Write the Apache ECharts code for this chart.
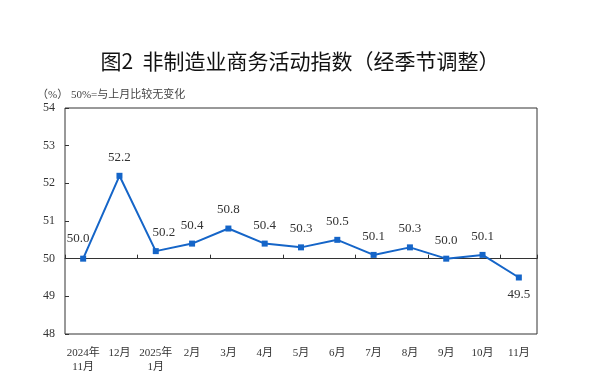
<!DOCTYPE html>
<html><head><meta charset="utf-8">
<script src="https://cdn.jsdelivr.net/npm/echarts@6/dist/echarts.min.js"></script>
<style>html,body{margin:0;padding:0;background:#fff}#c{width:600px;height:387px}</style>
</head><body><div id="c"></div>
<script>
const categories = ['2024年\n11月','12月','2025年\n1月','2月','3月','4月','5月','6月','7月','8月','9月','10月','11月'];
const values = [50.0, 52.2, 50.2, 50.4, 50.8, 50.4, 50.3, 50.5, 50.1, 50.3, 50.0, 50.1, 49.5];
const yTicks = [48, 49, 50, 51, 52, 53, 54];

const chart = echarts.init(document.getElementById('c'), null, {renderer:'canvas'});
const serif = 'Liberation Serif, "Noto Sans CJK SC", serif';
const gridTop = 108, gridBottom = 53, H = 387;
const gridH = H - gridTop - gridBottom;
const yMin = yTicks[0], yMax = yTicks[yTicks.length-1];
const lineOffset = -gridH * (50 - yMin) / (yMax - yMin);

const data = values.map((v, i) => {
  const item = { value: v };
  if (i === 0) item.label = { offset: [-5, -2] };
  if (i === 2) item.label = { offset: [8, 0] };
  if (i === values.length - 1) item.label = { position: 'bottom', distance: 8 };
  return item;
});

chart.setOption({
  animation: false,
  title: [{
    text: '图2  非制造业商务活动指数（经季节调整）',
    left: 'center', top: 46,
    textStyle: { fontFamily: '"Noto Sans CJK SC"', fontSize: 21, fontWeight: 'normal', color: '#111' }
  }, {
    text: '（%） 50%=与上月比较无变化',
    left: 32, top: 85,
    textStyle: { fontFamily: serif, fontSize: 11, fontWeight: 'normal', color: '#444' }
  }],
  grid: { left: 65, right: 63, top: gridTop, bottom: gridBottom, show: true, borderColor: '#333', borderWidth: 1, containLabel: false },
  xAxis: [{
    type: 'category', data: categories, boundaryGap: true,
    axisLine: { show: false }, axisTick: { show: false },
    axisLabel: { fontFamily: serif, fontSize: 11, color: '#333', margin: 12, lineHeight: 14, interval: 0 }
  }, {
    type: 'category', data: categories, boundaryGap: true, position: 'bottom', offset: lineOffset,
    axisLine: { show: true, lineStyle: { color: '#333', width: 1 } },
    axisTick: { show: true, inside: true, length: 4, lineStyle: { color: '#333' } },
    axisLabel: { show: false }
  }],
  yAxis: {
    type: 'value', min: yMin, max: yMax, interval: 1,
    axisLine: { show: false },
    axisTick: { show: true, inside: true, length: 4, lineStyle: { color: '#333' } },
    splitLine: { show: false },
    axisLabel: { fontFamily: serif, fontSize: 12, color: '#333', margin: 10 }
  },
  series: [{
    type: 'line', data: data, xAxisIndex: 0,
    symbol: 'rect', symbolSize: 6,
    lineStyle: { color: '#1565c8', width: 2 },
    itemStyle: { color: '#1565c8' },
    label: { show: true, position: 'top', distance: 9, formatter: p => p.value.toFixed(1),
      fontFamily: serif, fontSize: 13, color: '#333' }
  }]
});
</script></body></html>
